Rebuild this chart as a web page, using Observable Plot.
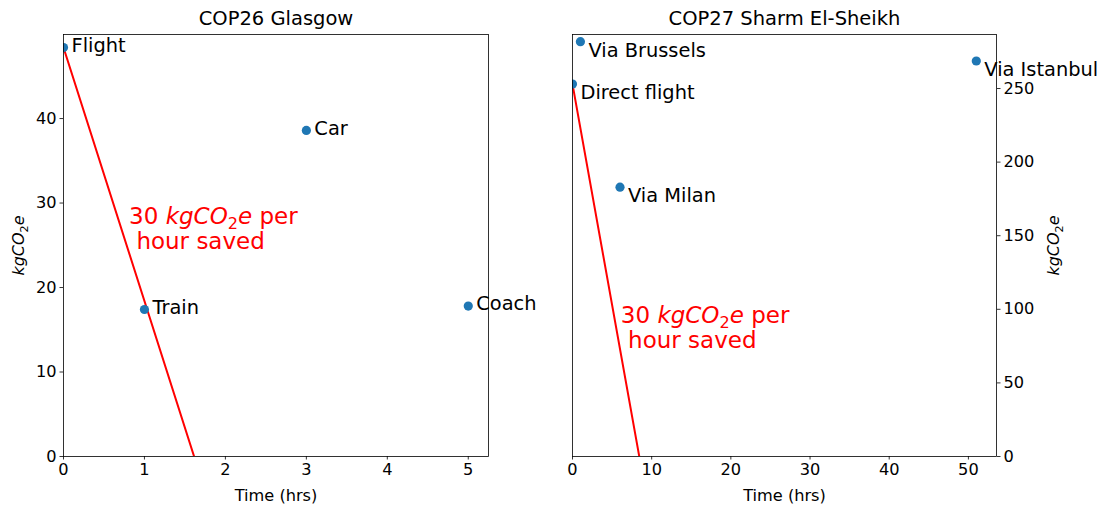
<!DOCTYPE html>
<html>
<head>
<meta charset="utf-8">
<script src="https://cdn.jsdelivr.net/npm/d3@7"></script>
<script src="https://cdn.jsdelivr.net/npm/@observablehq/plot@0.6"></script>
<style>
  html, body { margin: 0; padding: 0; background: #fff; }
  #wrap { position: relative; width: 1109px; height: 507px; font-family: "DejaVu Sans", sans-serif; }
  #left, #right { position: absolute; top: 0; }
  #left { left: 0; }
  #right { left: 555px; }
  svg { overflow: visible; }
</style>
</head>
<body>
<div id="wrap"><div id="left"></div><div id="right"></div></div>
<script>
// ---- Data ----
const glasgowTitle = "COP26 Glasgow";
const glasgowModes = ["Flight", "Train", "Car", "Coach"];
const glasgowHours = [0, 1, 3, 5];
const glasgowKg = [48.4, 17.4, 38.6, 17.8];

const sharmTitle = "COP27 Sharm El-Sheikh";
const sharmRoutes = ["Direct flight", "Via Brussels", "Via Milan", "Via Istanbul"];
const sharmHours = [0, 1, 6, 51];
const sharmKg = [253, 281.8, 183, 268.7];

const savingRate = 30; // kgCO2e per hour saved
const annotationText = "30 kgCO2e per\n hour saved";
const xLabel = "Time (hrs)";
const yLabel = "kgCO2e";

const glasgowXTicks = [0, 1, 2, 3, 4, 5];
const glasgowYTicks = [0, 10, 20, 30, 40];
const sharmXTicks = [0, 10, 20, 30, 40, 50];
const sharmYTicks = [0, 50, 100, 150, 200, 250];

// annotation anchor positions (data units)
const glasgowNote = {x: 0.81, y: 29.7};
const sharmNote = {x: 6.1, y: 103};

const BLUE = "#1f77b4";
const FONT = "DejaVu Sans";
const TICK_FS = 16.2;

function panel(opts) {
  const {title, labels, hours, kg, xTicks, yTicks, xDomain, yDomain, yAnchor,
         width, marginLeft, marginRight, note, labelDy} = opts;
  const idx = labels.map((_, i) => i);
  const flightKg = kg[0];
  const line = [{x: 0, y: flightKg}, {x: flightKg / savingRate, y: 0}];
  return Plot.plot({
    width, height: 507,
    marginLeft, marginRight, marginTop: 34, marginBottom: 51,
    style: {fontFamily: FONT, background: "white", color: "black"},
    x: {domain: xDomain},
    y: {domain: yDomain},
    marks: [
      Plot.line(line, {x: "x", y: "y", stroke: "red", strokeWidth: 2, clip: "frame"}),
      Plot.dot(idx, {x: i => hours[i], y: i => kg[i], r: 4.6, fill: BLUE, clip: "frame"}),
      Plot.text(idx, {x: i => hours[i], y: i => kg[i], text: i => labels[i],
        textAnchor: "start", dx: 8, dy: labelDy, fontSize: 19.4, fill: "black"}),
      Plot.text([annotationText], {x: () => note.x, y: () => note.y, text: d => d,
        textAnchor: "start", lineAnchor: "top", lineHeight: 1.1, fontSize: 23, fill: "red"}),
      Plot.axisX({ticks: xTicks, tickFormat: d3.format("d"), tickSize: 3.5, tickPadding: 3.5,
        fontSize: TICK_FS, label: null, strokeWidth: 0.8}),
      Plot.axisY({ticks: yTicks, tickFormat: d3.format("d"), anchor: yAnchor, tickSize: 3.5, tickPadding: 3.5,
        fontSize: TICK_FS, label: null, strokeWidth: 0.8}),
      Plot.frame({stroke: "black", strokeWidth: 0.8}),
      Plot.text([title], {frameAnchor: "top", textAnchor: "middle", lineAnchor: "middle",
        dy: -16, fontSize: 19.5, fill: "black"}),
      Plot.text([xLabel], {frameAnchor: "bottom", textAnchor: "middle", lineAnchor: "middle",
        dy: 39, fontSize: TICK_FS, fill: "black"}),
      Plot.text([yLabel], {frameAnchor: yAnchor, rotate: -90, textAnchor: "middle", lineAnchor: "middle",
        dx: yAnchor === "left" ? -45 : 57, fontSize: 16, fill: "black"})
    ]
  });
}

function richify(root) {
  const NS = "http://www.w3.org/2000/svg";
  root.querySelectorAll("text, tspan").forEach(node => {
    for (const child of [...node.childNodes]) {
      if (child.nodeType === 3 && child.nodeValue.includes("kgCO2e")) {
        const parts = child.nodeValue.split("kgCO2e");
        const frag = document.createDocumentFragment();
        parts.forEach((p, i) => {
          if (i > 0) {
            const a = document.createElementNS(NS, "tspan");
            a.setAttribute("font-style", "italic");
            a.textContent = "kgCO";
            const b = document.createElementNS(NS, "tspan");
            b.setAttribute("font-size", "70%");
            b.setAttribute("dy", "0.35em");
            b.textContent = "2";
            const c = document.createElementNS(NS, "tspan");
            c.setAttribute("font-style", "italic");
            c.setAttribute("dy", "-0.245em");
            c.textContent = "e";
            frag.appendChild(a); frag.appendChild(b); frag.appendChild(c);
          }
          if (p) frag.appendChild(document.createTextNode(p));
        });
        node.replaceChild(frag, child);
      }
    }
  });
}

const left = panel({
  title: glasgowTitle, labels: glasgowModes, hours: glasgowHours, kg: glasgowKg,
  xTicks: glasgowXTicks, yTicks: glasgowYTicks, xDomain: [0, 5.25], yDomain: [0, 49.95],
  yAnchor: "left", width: 555, marginLeft: 63, marginRight: 67, note: glasgowNote, labelDy: -2
});
const right = panel({
  title: sharmTitle, labels: sharmRoutes, hours: sharmHours, kg: sharmKg,
  xTicks: sharmXTicks, yTicks: sharmYTicks, xDomain: [0, 53.55], yDomain: [0, 286.7],
  yAnchor: "right", width: 554, marginLeft: 17, marginRight: 113, note: sharmNote, labelDy: 9
});
richify(left); richify(right);
document.getElementById("left").appendChild(left);
document.getElementById("right").appendChild(right);
</script>
</body>
</html>
